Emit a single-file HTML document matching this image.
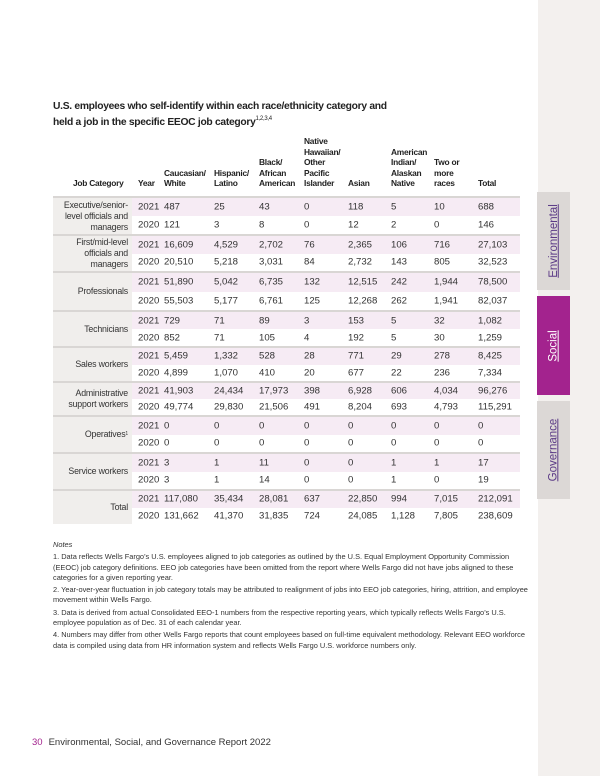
<!DOCTYPE html>
<html><head><meta charset="utf-8">
<style>
*{margin:0;padding:0;box-sizing:border-box}
body{width:600px;height:776px;position:relative;background:#fff;font-family:"Liberation Sans",sans-serif;color:#222;overflow:hidden}
.strip{position:absolute;left:538px;top:0;width:62px;height:776px;background:#f3f0ee}
.tab{position:absolute;left:537px;width:33px;background:#dcd8d6;display:flex;align-items:center;justify-content:center}
.tab span{transform:rotate(-90deg);white-space:nowrap;font-size:11.5px;color:#5b3a86;text-decoration:underline;display:block}
.title{position:absolute;left:53px;top:99px;font-size:10.3px;font-weight:bold;line-height:16px;color:#222;letter-spacing:-0.3px}
.title sup{font-size:6px;font-weight:normal;line-height:0;vertical-align:baseline;position:relative;top:-5px}
.hd{position:absolute;font-size:8.4px;font-weight:bold;line-height:10.6px;bottom:587px;letter-spacing:-0.25px}
.grp{position:absolute;left:53px;width:467px;border-top:2px solid #d9d6d4}
.lab{position:absolute;left:53px;width:79px;background:#f0eeec;text-align:right;font-size:8.8px;line-height:11px;color:#333;padding-right:4px;display:flex;align-items:center;justify-content:flex-end;letter-spacing:-0.2px}
.row{position:absolute;left:132px;width:388px}
.row.y21{background:#f6ebf4}
.cell{position:absolute;font-size:9.6px;color:#333;top:50%;transform:translateY(-50%)}
.notes{position:absolute;left:53px;top:540px;width:475px;font-size:7.4px;line-height:10.3px;color:#333}
.notes p{margin-bottom:2px}
.foot{position:absolute;left:32px;top:737px;font-size:9.5px;color:#333}
.foot b{color:#a3238e;font-weight:normal;margin-right:6px}
</style></head><body>
<div class="strip"></div>
<div class="tab" style="top:192px;height:98px"><span>Environmental</span></div>
<div class="tab" style="top:296px;height:99px;background:#a3238e"><span style="color:#fff">Social</span></div>
<div class="tab" style="top:401px;height:98px"><span>Governance</span></div>

<div class="title">U.S. employees who self-identify within each race/ethnicity category and<br>held a job in the specific EEOC job category<sup>1,2,3,4</sup></div>

<div class="hd" style="left:73px">Job Category</div>
<div class="hd" style="left:138px">Year</div>
<div class="hd" style="left:164px">Caucasian/<br>White</div>
<div class="hd" style="left:214px">Hispanic/<br>Latino</div>
<div class="hd" style="left:259px">Black/<br>African<br>American</div>
<div class="hd" style="left:304px">Native<br>Hawaiian/<br>Other<br>Pacific<br>Islander</div>
<div class="hd" style="left:348px">Asian</div>
<div class="hd" style="left:391px">American<br>Indian/<br>Alaskan<br>Native</div>
<div class="hd" style="left:434px">Two or<br>more<br>races</div>
<div class="hd" style="left:478px">Total</div>

<div id="tbl"></div>

<div class="notes">
<p style="font-style:italic">Notes</p>
<p>1. Data reflects Wells Fargo’s U.S. employees aligned to job categories as outlined by the U.S. Equal Employment Opportunity Commission (EEOC) job category definitions. EEO job categories have been omitted from the report where Wells Fargo did not have jobs aligned to these categories for a given reporting year.</p>
<p>2. Year-over-year fluctuation in job category totals may be attributed to realignment of jobs into EEO job categories, hiring, attrition, and employee movement within Wells Fargo.</p>
<p>3. Data is derived from actual Consolidated EEO-1 numbers from the respective reporting years, which typically reflects Wells Fargo’s U.S. employee population as of Dec. 31 of each calendar year.</p>
<p>4. Numbers may differ from other Wells Fargo reports that count employees based on full-time equivalent methodology. Relevant EEO workforce data is compiled using data from HR information system and reflects Wells Fargo U.S. workforce numbers only.</p>
</div>
<div class="foot"><b>30</b>Environmental, Social, and Governance Report 2022</div>

<script>
const categories=["Executive/senior-<br>level officials and<br>managers","First/mid-level<br>officials and<br>managers","Professionals","Technicians","Sales workers","Administrative<br>support workers","Operatives<sup style='font-size:5px'>1</sup>","Service workers","Total"];
const rows2021=[
["487","25","43","0","118","5","10","688"],
["16,609","4,529","2,702","76","2,365","106","716","27,103"],
["51,890","5,042","6,735","132","12,515","242","1,944","78,500"],
["729","71","89","3","153","5","32","1,082"],
["5,459","1,332","528","28","771","29","278","8,425"],
["41,903","24,434","17,973","398","6,928","606","4,034","96,276"],
["0","0","0","0","0","0","0","0"],
["3","1","11","0","0","1","1","17"],
["117,080","35,434","28,081","637","22,850","994","7,015","212,091"]];
const rows2020=[
["121","3","8","0","12","2","0","146"],
["20,510","5,218","3,031","84","2,732","143","805","32,523"],
["55,503","5,177","6,761","125","12,268","262","1,941","82,037"],
["852","71","105","4","192","5","30","1,259"],
["4,899","1,070","410","20","677","22","236","7,334"],
["49,774","29,830","21,506","491","8,204","693","4,793","115,291"],
["0","0","0","0","0","0","0","0"],
["3","1","14","0","0","1","0","19"],
["131,662","41,370","31,835","724","24,085","1,128","7,805","238,609"]];
const bounds=[196,234,271,310,346,381,415,452,489,524];
const colX=[164,214,259,304,348,391,434,478];
const tbl=document.getElementById('tbl');
categories.forEach((c,i)=>{
  const top=bounds[i],h=bounds[i+1]-top,half=h/2;
  const g=document.createElement('div');g.className='grp';g.style.top=top+'px';g.style.height=h+'px';
  
  
  tbl.appendChild(g);
  const l=document.createElement('div');l.className='lab';l.style.top=(top+2)+'px';l.style.height=(h-2)+'px';l.innerHTML=c;
  
  
  tbl.appendChild(l);
  [[rows2021[i],'2021','y21'],[rows2020[i],'2020','y20']].forEach((r,k)=>{
    const rw=document.createElement('div');rw.className='row '+r[2];
    rw.style.top=(top+2+k*(half-1))+'px';rw.style.height=(half-1)+'px';
    
    
    const y=document.createElement('div');y.className='cell';y.style.left='6px';y.textContent=r[1];
    
    
    rw.appendChild(y);
    r[0].forEach((v,j)=>{
      const d=document.createElement('div');d.className='cell';d.style.left=(colX[j]-132)+'px';d.textContent=v;
      
      
      rw.appendChild(d);
    });
    tbl.appendChild(rw);
  });
});
</script>
</body></html>
